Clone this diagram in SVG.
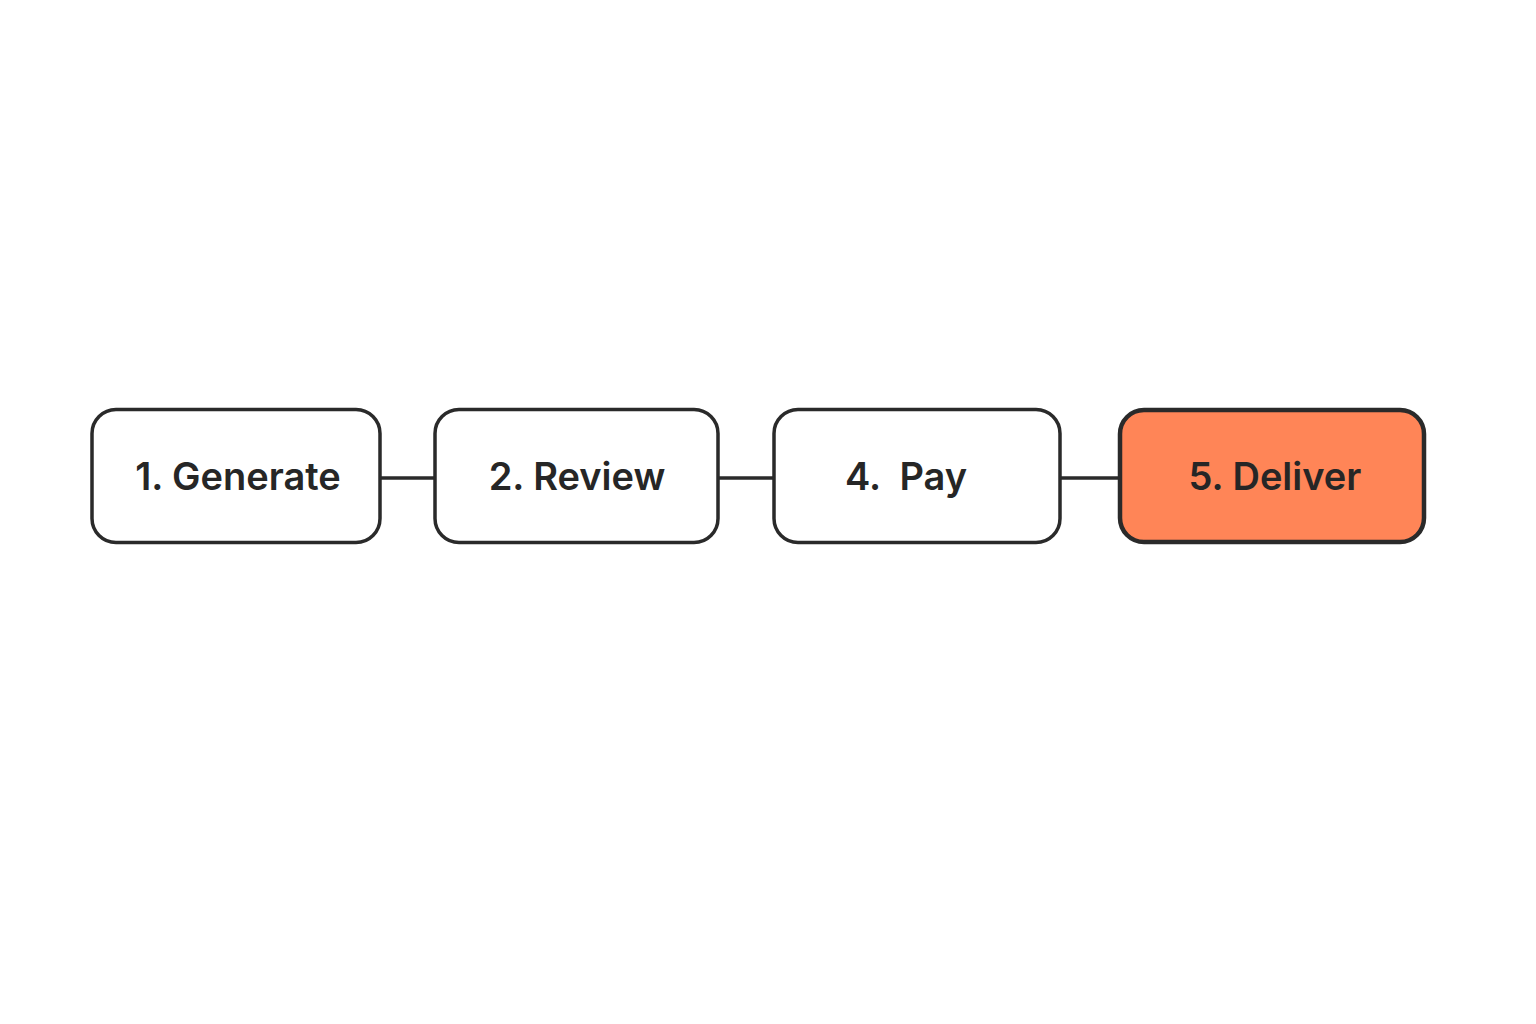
<svg xmlns="http://www.w3.org/2000/svg" width="1536" height="1024" viewBox="0 0 1536 1024">
<style>
.box{fill:#ffffff;stroke:#2a2a2a;stroke-width:3.5}
.hl{fill:#FF8557;stroke:#2a2a2a;stroke-width:4.5}
.lbl{font-family:Inter,"Noto Sans",sans-serif;font-size:38px;font-weight:600;fill:#262626;text-anchor:middle}
.edge{stroke:#2a2a2a;stroke-width:3.5;fill:none}
</style>
<rect width="1536" height="1024" fill="#ffffff"/>
<g id="connectors">
<line class="edge" x1="380" y1="478" x2="435" y2="478"/>
<line class="edge" x1="718" y1="478" x2="774" y2="478"/>
<line class="edge" x1="1060" y1="478" x2="1119" y2="478"/>
</g>
<g id="n1"><rect class="box" x="92" y="409.5" width="288" height="133" rx="24"/><text class="lbl" x="238" y="490">1. Generate</text></g>
<g id="n2"><rect class="box" x="435" y="409.5" width="283" height="133" rx="24"/><text class="lbl" x="577" y="490">2. Review</text></g>
<g id="n4"><rect class="box" x="774" y="409.5" width="286" height="133" rx="24"/><text class="lbl" x="906" y="490" xml:space="preserve">4.  Pay</text></g>
<g id="n5"><rect class="hl" x="1120" y="410" width="304" height="132" rx="24"/><text class="lbl" x="1275" y="490">5. Deliver</text></g>
</svg>
